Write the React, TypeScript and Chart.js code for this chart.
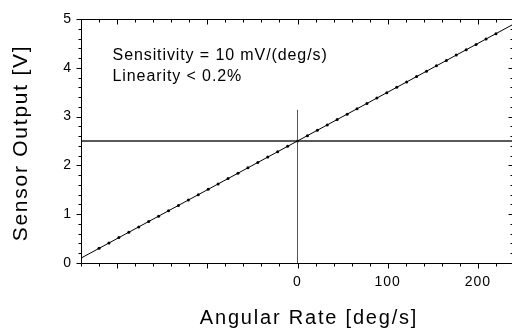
import React, { useEffect, useRef } from 'react';
import { Chart, registerables } from 'chart.js';

Chart.register(...registerables);

// measured points (angular rate in deg/s, sensor output in V)
const rates = [
  -220, -209, -198, -187, -176, -165, -154, -143, -132, -121, -110,
  -99, -88, -77, -66, -55, -44, -33, -22, -11, 0,
  11, 22, 33, 44, 55, 66, 77, 88, 99, 110,
  121, 132, 143, 154, 165, 176, 187, 198, 209, 220,
];
const outputs = [
  0.30, 0.41, 0.52, 0.63, 0.74, 0.85, 0.96, 1.07, 1.18, 1.29, 1.40,
  1.51, 1.62, 1.73, 1.84, 1.95, 2.06, 2.17, 2.28, 2.39, 2.50,
  2.61, 2.72, 2.83, 2.94, 3.05, 3.16, 3.27, 3.38, 3.49, 3.60,
  3.71, 3.82, 3.93, 4.04, 4.15, 4.26, 4.37, 4.48, 4.59, 4.70,
];

// fitted line
const fitRates = [-240, 240];
const fitOutputs = [0.1, 4.9];

// reference cross lines
const refRates = [-240, 240];
const refOutputs = [2.5, 2.5];
const zeroRates = [0, 0];
const zeroOutputs = [0, 3.14];

// axes
const xMin = -240;
const xMax = 240;
const xStep = 20;
const xLabelled = [0, 100, 200];
const yMin = 0;
const yMax = 5;
const yStep = 0.2;
const yLabelled = [0, 1, 2, 3, 4, 5];

const xTitle = 'Angular Rate [deg/s]';
const yTitle = 'Sensor Output [V]';
const notes = ['Sensitivity = 10 mV/(deg/s)', 'Linearity < 0.2%'];
const noteRate = -205;
const noteOutputs = [4.15, 3.72];

const FONT = "'Liberation Sans', Arial, Helvetica, sans-serif";

const pts = (xs: number[], ys: number[]) => xs.map((x, i) => ({ x, y: ys[i] }));

const framePlugin = {
  id: 'framePlugin',
  beforeDraw(chart: any) {
    (chart.ctx as any).letterSpacing = '1px';
  },
  afterDraw(chart: any) {
    const { ctx, chartArea: a, scales } = chart;
    const x = scales.x;
    const y = scales.y;
    ctx.save();
    ctx.strokeStyle = '#000';
    ctx.lineWidth = 1;
    const L = Math.round(a.left) + 0.5;
    const T = Math.round(a.top) + 0.5;
    const B = Math.round(a.bottom) + 0.5;
    const R = Math.round(a.right) - 0.5;
    ctx.beginPath();
    ctx.moveTo(R, T);
    ctx.lineTo(L, T);
    ctx.lineTo(L, B);
    ctx.lineTo(R, B);
    ctx.lineTo(R, T);
    x.ticks.forEach((t: any) => {
      const px = Math.round(x.getPixelForValue(t.value)) + 0.5;
      const major = Math.abs(t.value % 100) < 1e-6;
      const len = major ? 5 : 3;
      ctx.moveTo(px, B);
      ctx.lineTo(px, B + len);
      ctx.moveTo(px, T);
      ctx.lineTo(px, T + len);
    });
    y.ticks.forEach((t: any) => {
      const py = Math.round(y.getPixelForValue(t.value)) + 0.5;
      const major = Math.abs(t.value - Math.round(t.value)) < 1e-6;
      const len = major ? 5 : 3;
      ctx.moveTo(L, py);
      ctx.lineTo(L - len, py);
      ctx.moveTo(R, py);
      ctx.lineTo(R - len, py);
    });
    ctx.stroke();

    ctx.fillStyle = '#000';
    // x title
    ctx.font = `20px ${FONT}`;
    (ctx as any).letterSpacing = '1.8px';
    ctx.textAlign = 'center';
    ctx.textBaseline = 'alphabetic';
    ctx.fillText(xTitle, 309, 324);
    // y title
    ctx.save();
    ctx.translate(27, 143);
    ctx.rotate(-Math.PI / 2);
    ctx.font = `21px ${FONT}`;
    (ctx as any).letterSpacing = '1.75px';
    ctx.fillText(yTitle, 0, 0);
    ctx.restore();
    // notes
    ctx.font = `16px ${FONT}`;
    (ctx as any).letterSpacing = '0.9px';
    ctx.textAlign = 'left';
    notes.forEach((n, i) => {
      ctx.fillText(n, x.getPixelForValue(noteRate), y.getPixelForValue(noteOutputs[i]));
    });
    ctx.restore();
  },
};

export default function App() {
  const ref = useRef<HTMLCanvasElement | null>(null);
  useEffect(() => {
    if (!ref.current) return;
    Chart.defaults.font.family = FONT;
    const chart = new Chart(ref.current, {
      type: 'scatter',
      data: {
        datasets: [
          {
            data: pts(fitRates, fitOutputs),
            showLine: true,
            borderColor: '#000',
            borderWidth: 1,
            pointRadius: 0,
          },
          {
            data: pts(refRates, refOutputs),
            showLine: true,
            borderColor: '#222',
            borderWidth: 1.5,
            pointRadius: 0,
          },
          {
            data: pts(zeroRates, zeroOutputs),
            showLine: true,
            borderColor: '#555',
            borderWidth: 1,
            pointRadius: 0,
          },
          {
            data: pts(rates, outputs),
            showLine: false,
            pointRadius: 1.5,
            pointBackgroundColor: '#000',
            pointBorderWidth: 0,
          },
        ],
      },
      options: {
        animation: false,
        responsive: false,
        events: [],
        layout: { padding: { top: 19, right: 0, left: 0, bottom: 0 } },
        plugins: { legend: { display: false }, tooltip: { enabled: false } },
        scales: {
          x: {
            type: 'linear',
            min: xMin,
            max: xMax,
            grid: { display: false, drawTicks: false, tickLength: 0 },
            border: { display: false },
            afterFit: (s: any) => { s.height = 66; s.paddingRight = 0; s.paddingLeft = 0; },
            ticks: {
              stepSize: xStep,
              autoSkip: false,
              maxRotation: 0,
              padding: 11,
              color: '#000',
              font: { size: 14 },
              callback: (v: any) => (xLabelled.includes(Math.round(Number(v))) && Math.abs(Number(v) - Math.round(Number(v))) < 1e-6 ? String(Math.round(Number(v))) : ''),
            },
          },
          y: {
            type: 'linear',
            min: yMin,
            max: yMax,
            grid: { display: false, drawTicks: false, tickLength: 0 },
            border: { display: false },
            afterFit: (s: any) => { s.width = 81; },
            ticks: {
              stepSize: yStep,
              autoSkip: false,
              padding: 9,
              color: '#000',
              font: { size: 14 },
              callback: (v: any) => {
                const n = Number(v);
                const r = Math.round(n);
                return Math.abs(n - r) < 1e-6 && yLabelled.includes(r) ? String(r) : '';
              },
            },
          },
        },
      },
      plugins: [framePlugin],
    } as any);
    return () => chart.destroy();
  }, []);
  return (
    <div style={{ position: 'fixed', left: 0, top: 0, width: 512, height: 329, overflow: 'hidden', background: '#fff' }}>
      <canvas ref={ref} width={518} height={329} style={{ display: 'block' }} />
    </div>
  );
}
